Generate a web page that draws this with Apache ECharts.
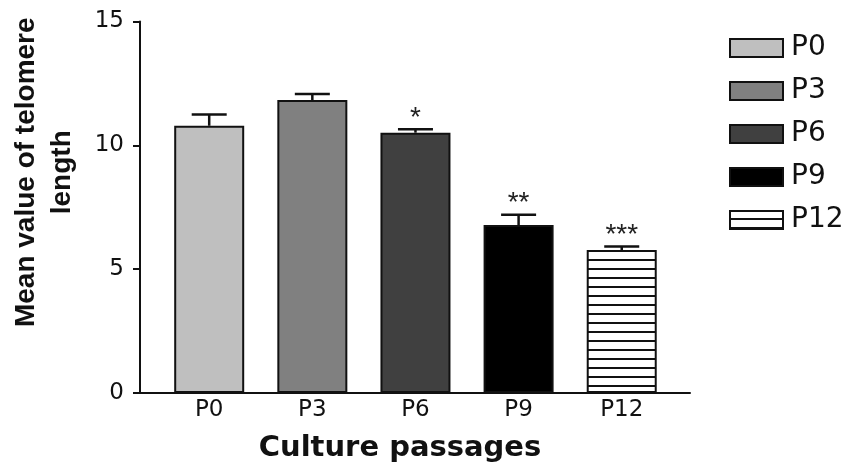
<!DOCTYPE html>
<html><head><meta charset="utf-8">
<script src="https://cdn.jsdelivr.net/npm/echarts@6/dist/echarts.min.js"></script>
<style>html,body{margin:0;padding:0;background:#fff}#c{width:850px;height:473px}</style>
</head><body><div id="c"></div>
<script>
const categories = ['P0', 'P3', 'P6', 'P9', 'P12'];
const means = [10.79, 11.83, 10.51, 6.78, 5.77];
const sems = [0.46, 0.24, 0.14, 0.42, 0.15];
const stars = ['', '', '*', '**', '***'];
const yTicks = [0, 5, 10, 15];
const fills = ['#bfbfbf', '#808080', '#404040', '#000000', 'hatch'];

const pc = document.createElement('canvas');
pc.width = 4; pc.height = 9;
const g = pc.getContext('2d');
g.fillStyle = '#fff'; g.fillRect(0, 0, 4, 9);
g.fillStyle = '#111'; g.fillRect(0, 7, 4, 2);
const hatch = { image: pc, repeat: 'repeat' };

const chart = echarts.init(document.getElementById('c'), null, { renderer: 'canvas' });
const barSeries = categories.map((c, i) => ({
  name: c,
  type: 'bar',
  barWidth: 70,
  barGap: '-100%',
  data: [[i, means[i]]],
  itemStyle: { color: fills[i] === 'hatch' ? hatch : fills[i], borderColor: '#111', borderWidth: 2 },
  emphasis: { disabled: true },
  z: 2
}));

const errSeries = {
  type: 'custom',
  data: categories.map((c, i) => [i, means[i], sems[i]]),
  renderItem: function (params, api) {
    const x = api.value(0), m = api.value(1), e = api.value(2);
    const p0 = api.coord([x, m]);
    const p1 = api.coord([x, m + e]);
    const st = { stroke: '#111', lineWidth: 2.5 };
    const children = [
      { type: 'line', shape: { x1: p0[0], y1: p0[1], x2: p1[0], y2: p1[1] }, style: st },
      { type: 'line', shape: { x1: p1[0] - 17.5, y1: p1[1], x2: p1[0] + 17.5, y2: p1[1] }, style: st }
    ];
    const s = stars[params.dataIndex];
    if (s) {
      children.push({ type: 'text', x: p1[0], y: p1[1] - 11,
        style: { text: s, fill: '#222', font: '28px "Liberation Sans"', align: 'center', verticalAlign: 'middle' } });
    }
    return { type: 'group', children: children };
  },
  z: 5,
  silent: true
};

chart.setOption({
  animation: false,
  backgroundColor: '#fff',
  legend: {
    orient: 'vertical',
    left: 724,
    top: 29,
    icon: 'rect',
    itemWidth: 53,
    itemHeight: 18,
    itemGap: 15,
    textStyle: { fontFamily: 'DejaVu Sans', fontSize: 28, color: '#111', padding: [0, 0, 0, 3] },
    data: categories
  },
  grid: { left: 134, right: 160, top: 21.5, bottom: 80, containLabel: false },
  xAxis: {
    type: 'value',
    min: -0.671, max: 4.662,
    splitLine: { show: false },
    axisLine: { show: true, onZero: false, lineStyle: { color: '#111', width: 2 } },
    axisTick: { show: false },
    axisLabel: { customValues: [0, 1, 2, 3, 4], formatter: v => categories[Math.round(v)] || '',
      fontFamily: 'DejaVu Sans', fontSize: 23, color: '#111', margin: 6 },
    name: 'Culture passages',
    nameLocation: 'middle',
    nameGap: 41,
    nameTextStyle: { fontFamily: 'DejaVu Sans', fontWeight: 'bold', fontSize: 29, color: '#111', padding: [0, 30, 0, 0] }
  },
  yAxis: {
    type: 'value',
    min: 0, max: 15, interval: 5,
    splitLine: { show: false },
    axisLine: { show: true, onZero: false, lineStyle: { color: '#111', width: 2 } },
    axisTick: { show: true, length: 7, lineStyle: { color: '#111', width: 2 } },
    axisLabel: { customValues: yTicks, fontFamily: 'DejaVu Sans', fontSize: 23, color: '#111', margin: 16 },
    name: 'Mean value of telomere\nlength',
    nameLocation: 'middle',
    nameGap: 60,
    nameTextStyle: { fontFamily: 'Liberation Sans', fontWeight: 'bold', fontSize: 28, lineHeight: 36, color: '#111', align: 'center', padding: [0, 0, 0, 70] }
  },
  series: barSeries.concat([errSeries])
});
</script></body></html>
